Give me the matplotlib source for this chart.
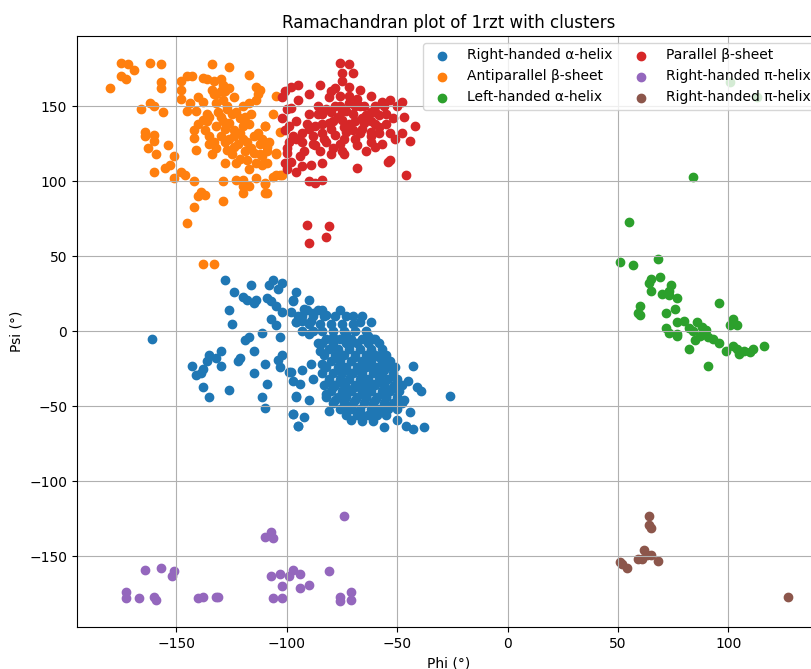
import numpy as np
import matplotlib
matplotlib.use('Agg')
import matplotlib.pyplot as plt

# Phi / Psi values (degrees) per cluster
alpha_r_phi = [-128, -124, -120, -118, -116, -114, -115, -126, -125, -161, -130, -135, -132, -136, -130,
               -143, -138, -141, -139, -138, -135, -126, -121, -122, -119, -117, -115, -111, -110, -115,
               -109, -111, -110, -109, -107, -106, -108, -102, -104, -105, -102, -107, -105, -103, -102,
               -104, -103, -96, -97, -98, -96, -99, -97, -96, -97, -95,
               -97, -90, -82, -67, -62, -93, -89, -96, -63, -60, -89, -93, -88, -98, -94, -96, -90, -97,
               -92, -95, -81, -71, -66, -56, -53, -43, -45, -41, -39, -47, -44, -46, -43, -38, -50, -84,
               -85, -79, -73, -71, -76, -69, -62, -58, -56, -81, -82, -78, -73, -69, -64, -60, -55, -52,
               -76, -71, -66, -61, -56, -66, -62, -73, -61, -55, -79, -75, -69, -64, -73,
               -86, -90, -93, -88, -84, -92, -95, -26,
               # dense core
               -82, -76, -71, -66, -61,
               -84, -79, -73, -68, -63, -58,
               -81, -77, -72, -67, -62, -57,
               -83, -78, -74, -69, -64, -60, -55,
               -80, -76, -71, -66, -62, -57, -53,
               -82, -77, -73, -68, -64, -59, -55, -51,
               -84, -79, -75, -70, -66, -61, -57, -52,
               -81, -76, -72, -67, -63, -58, -54, -50,
               -83, -78, -74, -69, -65, -60, -56, -51, -48,
               -80, -75, -71, -66, -62, -57, -53, -49,
               -82, -77, -73, -68, -64, -59, -55, -50,
               -79, -74, -70, -65, -61, -56, -52, -48,
               -76, -71, -67, -62, -58, -54, -50,
               -73, -68, -63, -59, -55,
               -66, -61,
               -93, -88, -83, -78, -73, -70, -66,
               -90, -85, -80, -75, -70,
               -88, -84, -79, -74, -69, -64,
               -91, -86, -76]
alpha_r_psi = [34, 26, 23, 21, 31, 21, 19, 14, 5, -5, -13, -16, -18, -20, -23,
               -23, -25, -29, -28, -37, -44, -39, -18, -20, -6, -4, -13, -1, -22, -28,
               -35, -44, -51, 22, 20, 34, 31, 32, 28, 17, 13, 8, 4, -4, -16,
               -19, -24, 26, 21, 13, 6, -27, -33, -43, -55, -63,
               20, 21, 11, 6, 6, 7, 7, 6, -3, -5, -22, -26, -32, -27, -35, -44, -46, -55,
               -57, -63, -53, -59, -56, -64, -23, -23, -33, -37, -40, -46, -54, -63, -65, -64, -59, -22,
               -13, -4, -2, -8, -15, -17, -13, -17, -26, -33, -42, -46, -42, -46, -44, -46, -44, -37,
               -33, -28, -30, -35, -35, -23, -24, -52, -53, -53, -37, -24, -37, -37, -37,
               -8, -2, 0, 12, 14, 15, 10, -43,
               # dense core
               -5, -5, -5, -5, -5,
               -8, -8, -8, -8, -8, -8,
               -12, -12, -12, -12, -12, -12,
               -16, -16, -16, -16, -16, -16, -16,
               -20, -20, -20, -20, -20, -20, -20,
               -24, -24, -24, -24, -24, -24, -24, -24,
               -28, -28, -28, -28, -28, -28, -28, -28,
               -32, -32, -32, -32, -32, -32, -32, -32,
               -36, -36, -36, -36, -36, -36, -36, -36, -36,
               -40, -40, -40, -40, -40, -40, -40, -40,
               -44, -44, -44, -44, -44, -44, -44, -44,
               -48, -48, -48, -48, -48, -48, -48, -48,
               -52, -52, -52, -52, -52, -52, -52,
               -56, -56, -56, -56, -56,
               -60, -60,
               10, 10, 10, 10, 10, 10, 10,
               5, 5, 5, 5, 5,
               0, 0, 0, 0, 0, 0,
               14, 14, 14]

beta_anti_phi = [-175, -172, -169, -162, -157, -175, -173, -180, -157, -157, -166, -162, -160, -156, -164,
                 -164, -160, -160, -163, -159, -154, -151, -153, -155, -160, -151, -148, -146, -142, -139,
                 -137, -140, -142, -145, -129, -129, -123, -120, -120, -120, -117, -114, -110, -110, -106,
                 -103, -134, -126, -117, -145, -143, -148, -148, -148, -145, -141, -144, -140, -138, -138,
                 -136, -133, -130, -129, -126, -134, -132, -129, -132, -135, -130, -129, -126, -121, -120,
                 -117, -114, -113, -114, -105, -110, -142, -142, -141, -134, -133, -130, -126, -127, -124,
                 -121, -120, -117, -115, -113, -108, -109, -105, -115, -118, -123, -114, -111, -124, -118,
                 -137, -135, -138, -132, -125, -122, -128, -119, -112, -130, -127, -136, -116,
                 -112, -106, -110, -111, -109, -111, -105, -109, -105, -102, -110, -109, -103, -138, -133,
                 -136, -131, -127, -123, -119, -124, -120, -116, -112, -128, -132, -125, -121, -117, -128,
                 -135, -140, -133, -128, -124]
beta_anti_psi = [179, 178, 174, 179, 178, 170, 168, 162, 166, 162, 148, 152, 150, 146, 133,
                 130, 131, 127, 122, 118, 124, 117, 111, 109, 106, 102, 106, 104, 100, 93,
                 91, 90, 83, 72, 87, 100, 101, 101, 97, 92, 97, 102, 98, 92, 103,
                 104, 178, 176, 171, 170, 170, 167, 161, 155, 147, 147, 152, 156, 153, 169,
                 168, 167, 168, 164, 162, 161, 158, 154, 152, 143, 143, 140, 139, 142, 150,
                 152, 163, 158, 154, 157, 137, 134, 129, 121, 118, 126, 130, 128, 121, 123,
                 132, 137, 138, 130, 132, 126, 120, 119, 119, 114, 112, 112, 111, 134, 126,
                 134, 130, 141, 137, 145, 125, 135, 120, 125, 160, 150, 145, 145,
                 161, 145, 137, 128, 123, 117, 118, 112, 104, 104, 99, 92, 133, 45, 45,
                 140, 146, 148, 146, 143, 130, 128, 122, 118, 126, 122, 118, 115, 108, 112,
                 125, 138, 158, 160, 156]

alpha_l_phi = [84, 55, 51, 57, 68, 65, 69, 64, 65, 74, 73, 70, 73, 77, 60, 59, 60, 72, 76, 96,
               77, 80, 72, 73, 77, 77, 82, 86, 88, 90, 84, 87, 91, 85, 93, 82, 91, 96, 99, 102,
               101, 104, 102, 104, 105, 107, 110, 111, 116, 101, 113]
alpha_l_psi = [103, 73, 46, 44, 48, 35, 36, 32, 27, 31, 27, 25, 24, 22, 17, 12, 11, 12, 15, 19,
               6, 7, 2, -1, -2, -3, 2, 6, 3, 1, 0, -3, -4, -6, -5, -12, -23, -8, -13, 8,
               4, 4, -10, -12, -15, -13, -14, -12, -10, 166, 156]

beta_par_phi = [-76, -72, -75, -70, -75, -85, -78, -72, -98, -95, -102, -95, -90, -81, -76, -67, -62,
                -57, -53, -48, -50, -98, -72, -67, -84, -80, -75, -62, -58, -52, -47, -102, -96, -91,
                -87, -81, -75, -69, -65, -60, -55, -42, -101, -97, -93, -88, -84, -78, -73, -67, -62,
                -58, -53, -48, -51, -44, -99, -93, -87, -82, -74, -68, -62, -60, -75, -80, -85, -94,
                -100, -98, -89, -84, -93, -54, -53, -68, -100, -96, -90, -87, -84, -46,
                -91, -81, -82, -90, -101, -100, -99, -100, -101,
                -78, -70, -65, -60, -72, -66, -80, -76, -90, -86, -55, -62, -57,
                -86, -82, -77, -73, -69, -64, -60, -56, -84, -79, -74, -70, -66, -62, -58, -88,
                -83, -79, -74, -69, -64, -92, -96, -90, -72, -68, -76, -80]
beta_par_psi = [179, 178, 172, 172, 167, 164, 162, 163, 163, 164, 156, 154, 158, 156, 157, 161, 157,
                153, 154, 153, 150, 149, 152, 150, 145, 146, 147, 146, 144, 142, 143, 142, 140, 138,
                137, 139, 141, 140, 139, 138, 138, 137, 134, 130, 132, 130, 132, 131, 133, 132, 133,
                132, 132, 132, 128, 127, 126, 126, 124, 126, 128, 124, 126, 123, 120, 118, 120, 117,
                119, 113, 111, 112, 110, 113, 114, 109, 108, 106, 100, 99, 101, 104,
                71, 70, 63, 59, 160, 148, 137, 122, 112,
                150, 145, 150, 150, 138, 135, 135, 125, 145, 150, 145, 140, 125,
                145, 148, 143, 147, 150, 144, 146, 150, 138, 140, 136, 134, 142, 130, 136, 125,
                128, 122, 118, 128, 120, 120, 128, 135, 157, 155, 150, 160]

pi_r_phi = [-173, -173, -167, -160, -159, -164, -157, -152, -151, -140, -138, -132, -131, -110, -107,
            -106, -107, -103, -99, -97, -94, -102, -94, -90, -106, -102, -81, -74, -76, -76, -71, -71]
pi_r_psi = [-174, -178, -178, -177, -179, -159, -158, -163, -160, -178, -177, -177, -177, -137, -134,
            -138, -163, -162, -163, -159, -162, -170, -171, -169, -178, -178, -160, -123, -177, -180, -174, -179]

pi_r2_phi = [64, 64, 65, 62, 63, 65, 59, 61, 68, 51, 52, 54, 127]
pi_r2_psi = [-123, -129, -131, -146, -149, -149, -152, -152, -153, -154, -155, -158, -177]

clusters = [
    ('Right-handed α-helix', alpha_r_phi, alpha_r_psi),
    ('Antiparallel β-sheet', beta_anti_phi, beta_anti_psi),
    ('Left-handed α-helix', alpha_l_phi, alpha_l_psi),
    ('Parallel β-sheet', beta_par_phi, beta_par_psi),
    ('Right-handed π-helix', pi_r_phi, pi_r_psi),
    ('Right-handed π-helix', pi_r2_phi, pi_r2_psi),
]

fig = plt.figure(figsize=(8.12, 6.69), dpi=100)
# axes runs a little past the right edge, like the cropped original
ax = fig.add_axes([77 / 812, 42 / 669, 744 / 812, 591 / 669])

for label, phi, psi in clusters:
    ax.scatter(phi, psi, label=label)

ax.set_xlim(-195, 142)
ax.set_ylim(-197.3, 196.7)
ax.set_xlabel('Phi (°)')
ax.set_ylabel('Psi (°)')
ax.set_title('Ramachandran plot of 1rzt with clusters')
ax.grid(True)
ax.legend(loc='upper right', ncol=2, columnspacing=1.0, bbox_to_anchor=(1 + 2 / 744, 1))

fig.savefig('out.png', dpi=100)
